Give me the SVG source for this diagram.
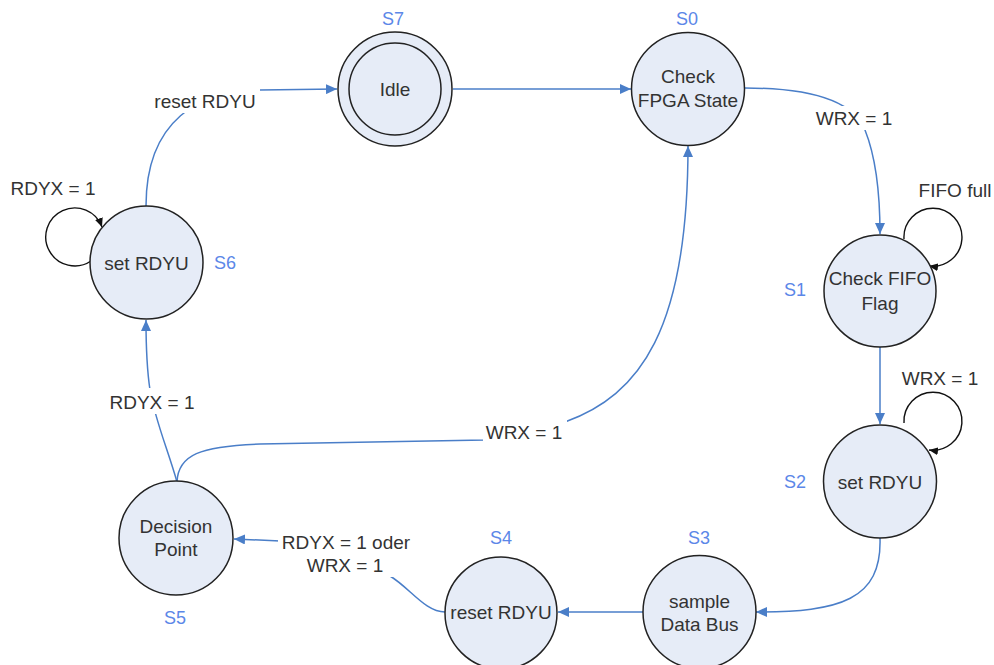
<svg xmlns="http://www.w3.org/2000/svg" width="994" height="665" viewBox="0 0 994 665">
<defs>
<style>
.node{fill:#e6ecf7;stroke:#222;stroke-width:1.5}
.t{font-family:"Liberation Sans",Arial,sans-serif;font-size:19px;fill:#333;text-anchor:middle;dominant-baseline:central}
.s{font-family:"Liberation Sans",Arial,sans-serif;font-size:18px;fill:#5b87e8;text-anchor:middle;dominant-baseline:central}
.c{fill:none;stroke:#4a7ec8;stroke-width:1.5;marker-end:url(#a)}
.cn{fill:none;stroke:#4a7ec8;stroke-width:1.5}
.loop{fill:none;stroke:#111;stroke-width:1.4;marker-end:url(#b)}
.bg{fill:#fff}
</style>
<marker id="a" markerUnits="userSpaceOnUse" markerWidth="12" markerHeight="10" refX="11" refY="5" orient="auto">
<path d="M0,0 L11,5 L0,10 z" fill="#4a7ec8"/>
</marker>
<marker id="b" markerUnits="userSpaceOnUse" markerWidth="10" markerHeight="8" refX="9" refY="4" orient="auto">
<path d="M0,0 L9,4 L0,8 z" fill="#111"/>
</marker>
</defs>
<rect width="994" height="665" fill="#fff"/>
<g id="connectors">
<path class="c" d="M146,206 C146,120 200,90 260,90 L337,89"/>
<path class="c" d="M453,89 L631,89"/>
<path class="c" d="M745,88 C820,88 855,105 865,130 C875,155 880,190 880,234"/>
<path class="c" d="M880,347 L880,424"/>
<path class="c" d="M880,538 C882,600 840,612 756,612"/>
<path class="c" d="M643,612 L558,612"/>
<path class="c" d="M445,612 C425,612 410,588 390,576 C360,556 330,541 280,541 L234,539"/>
<path class="c" d="M177,482 C168,450 155,420 150,390 C147,370 146,345 146,320"/>
<path class="c" d="M177,482 C178,455 200,446 260,444 L485,440 L565,422 C640,395 688,330 688,146"/>
<path class="loop" d="M91,261 A29,29 0 1 1 102,227"/>
<path class="loop" d="M904,239 A29,29 0 1 1 929,266"/>
<path class="loop" d="M904,423 A29,29 0 1 1 929,450"/>
<rect class="bg" x="151" y="89" width="109" height="24"/>
<text class="t" x="205" y="101">reset RDYU</text>
<rect class="bg" x="812" y="106" width="86" height="24"/>
<text class="t" x="854" y="118">WRX = 1</text>
<rect class="bg" x="483" y="420" width="84" height="24"/>
<text class="t" x="524" y="432">WRX = 1</text>
<rect class="bg" x="106" y="388" width="92" height="26"/>
<text class="t" x="152" y="402">RDYX = 1</text>
<rect class="bg" x="278" y="529" width="138" height="48"/>
<text class="t" x="346" y="542">RDYX = 1 oder</text>
<text class="t" x="345" y="565">WRX = 1</text>
<text class="t" x="53" y="188">RDYX = 1</text>
<text class="t" x="955" y="190">FIFO full</text>
<text class="t" x="940" y="378">WRX = 1</text>
</g>
<g id="S7">
<circle class="node" cx="395" cy="89" r="57"/>
<circle class="node" cx="395" cy="89" r="46"/>
<text class="t" x="395" y="89">Idle</text>
<text class="s" x="393" y="19">S7</text>
</g>
<g id="S0">
<circle class="node" cx="688" cy="89" r="56.5"/>
<text class="t" x="688" y="76">Check</text>
<text class="t" x="688" y="100">FPGA State</text>
<text class="s" x="687" y="19">S0</text>
</g>
<g id="S6">
<circle class="node" cx="146.5" cy="262.5" r="56.5"/>
<text class="t" x="146.5" y="263">set RDYU</text>
<text class="s" x="225" y="263">S6</text>
</g>
<g id="S1">
<circle class="node" cx="880" cy="291" r="56"/>
<text class="t" x="880" y="278">Check FIFO</text>
<text class="t" x="880" y="303">Flag</text>
<text class="s" x="795" y="290">S1</text>
</g>
<g id="S2">
<circle class="node" cx="880" cy="481.5" r="56.5"/>
<text class="t" x="880" y="482">set RDYU</text>
<text class="s" x="795" y="482">S2</text>
</g>
<g id="S3">
<circle class="node" cx="699.5" cy="612" r="56.5"/>
<text class="t" x="699.5" y="601">sample</text>
<text class="t" x="699.5" y="624">Data Bus</text>
<text class="s" x="699" y="538">S3</text>
</g>
<g id="S4">
<circle class="node" cx="501" cy="613" r="56"/>
<text class="t" x="501" y="612">reset RDYU</text>
<text class="s" x="501" y="538">S4</text>
</g>
<g id="S5">
<circle class="node" cx="176" cy="538" r="57"/>
<text class="t" x="176" y="526">Decision</text>
<text class="t" x="176" y="549">Point</text>
<text class="s" x="175" y="618">S5</text>
</g>
</svg>
